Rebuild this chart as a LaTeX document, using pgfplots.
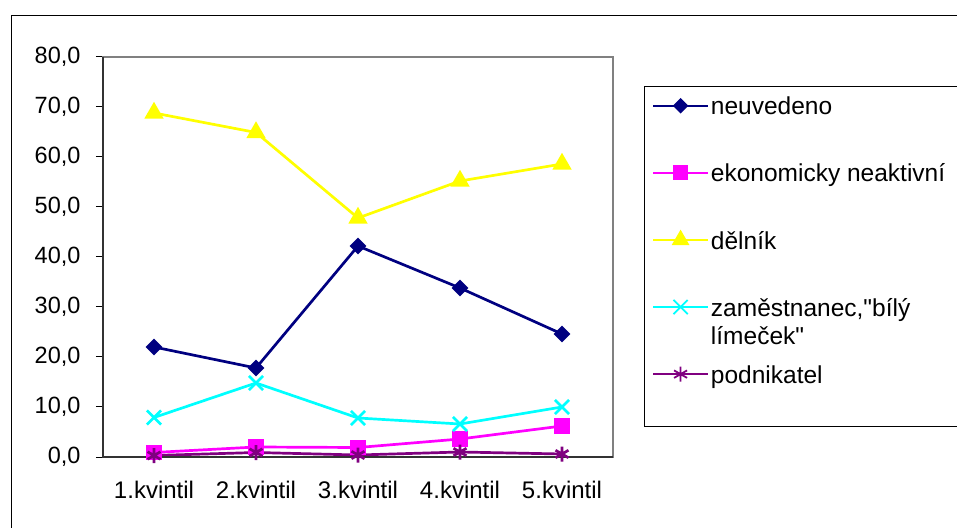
\documentclass[border=0pt]{standalone}
\usepackage{fontspec}
\setmainfont{Liberation Sans}[Ligatures=TeXOff]
\usepackage{pgfplots}
\pgfplotsset{compat=1.18}
\definecolor{cnavy}{HTML}{000080}
\definecolor{cmag}{HTML}{FF00FF}
\definecolor{cyel}{HTML}{FFFF00}
\definecolor{ccyan}{HTML}{00FFFF}
\definecolor{cpurp}{HTML}{800080}
\definecolor{cgray}{HTML}{808080}
\begin{document}
\begin{tikzpicture}[x=1pt,y=1pt]
\path[use as bounding box] (0pt,0pt) rectangle (957pt,527pt);
\begin{scope}
\clip (0pt,0pt) rectangle (957pt,527pt);
\draw[black, line width=1pt] (11.5pt,511.5pt) rectangle (1000pt,-20pt);
\draw[black, line width=1pt] (644pt,100pt) rectangle (1000pt,440pt);
\begin{axis}[
  at={(103pt,470pt)}, anchor=north west,
  scale only axis, width=510pt, height=400pt,
  xmin=0.5, xmax=5.5, ymin=0, ymax=80,
  axis line style={cgray, line width=1.5pt},
  xtick={1,2,3,4,5},
  xticklabels={1.kvintil,2.kvintil,3.kvintil,4.kvintil,5.kvintil},
  extra x ticks={0.5,1.5,2.5,3.5,4.5,5.5},
  extra x tick labels={},
  extra x tick style={major tick length=7pt, tick style={black, line width=1pt}},
  xtick style={draw=none},
  ytick={0,10,...,80},
  yticklabels={{0,0},{10,0},{20,0},{30,0},{40,0},{50,0},{60,0},{70,0},{80,0}},
  ytick style={black, line width=1pt},
  major tick length=7pt,
  tick align=outside,
  xtick pos=left, ytick pos=left,
  tick label style={black},
  yticklabel style={xshift=-12pt, font=\fontsize{23.5}{26}\selectfont},
  xticklabel style={yshift=-14pt, font=\fontsize{24}{26}\selectfont},
  legend style={draw=none, fill=none, at={(1.0725,0.915)}, anchor=north west,
    font=\fontsize{24.5}{28}\selectfont, row sep=42pt, inner sep=2pt},
  legend cell align=left,
  legend image code/.code={\draw[mark repeat=2,mark phase=2,line width=1.8pt] plot coordinates {(0pt,0pt) (27.5pt,0pt) (55pt,0pt)};},
  every axis plot/.append style={line width=2.7pt},
  clip=false,
]
\addplot[cnavy, mark=square*, mark size=4.6pt, mark options={rotate=45, solid}]
  coordinates {(1,22.0) (2,17.8) (3,42.2) (4,33.8) (5,24.6)};
\addlegendentry{\strut\makebox[250pt][l]{neuvedeno}}
\addplot[cmag, mark=square*, mark size=6.5pt, mark options={solid}]
  coordinates {(1,0.9) (2,2.0) (3,1.9) (4,3.6) (5,6.2)};
\addlegendentry{\strut ekonomicky neaktivní}
\addplot[cyel, mark=triangle*, mark size=8.5pt, mark options={solid}]
  coordinates {(1,68.8) (2,64.9) (3,47.8) (4,55.2) (5,58.6)};
\addlegendentry{\strut dělník}
\addplot[ccyan, mark=x, mark size=10pt, mark options={solid}]
  coordinates {(1,7.9) (2,14.8) (3,7.8) (4,6.6) (5,10.0)};
\addlegendentry{\strut\smash{\parbox[t]{250pt}{zaměstnanec,"bílý\\límeček"}}}
\addplot[cpurp, mark=asterisk, mark size=7.5pt, mark options={solid}]
  coordinates {(1,0.3) (2,0.9) (3,0.4) (4,1.0) (5,0.6)};
\addlegendentry{\strut podnikatel}
\draw[black!80, line width=2pt] (rel axis cs:0,1) -- (rel axis cs:0,0) -- (rel axis cs:1,0);
\end{axis}
\end{scope}
\end{tikzpicture}
\end{document}
